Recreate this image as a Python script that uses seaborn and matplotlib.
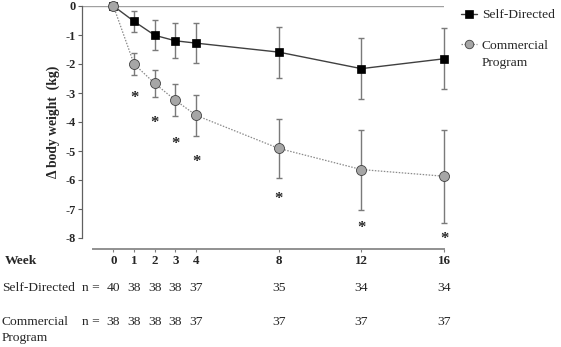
import numpy as np
import pandas as pd
import matplotlib.pyplot as plt
import matplotlib.transforms as mtransforms
import seaborn as sns

plt.switch_backend("Agg")

# dados
weeks = [0, 1, 2, 3, 4, 8, 12, 16]
self_directed = [0, -0.53, -1.01, -1.20, -1.28, -1.59, -2.16, -1.82]
self_directed_err = [0, 0.36, 0.52, 0.60, 0.69, 0.88, 1.05, 1.05]
commercial = [0, -2.00, -2.67, -3.25, -3.77, -4.91, -5.64, -5.87]
commercial_err = [0, 0.37, 0.48, 0.56, 0.70, 1.03, 1.38, 1.61]
star_weeks = [1, 2, 3, 4, 8, 12, 16]
star_y = [-3.08, -3.94, -4.67, -5.30, -6.56, -7.56, -7.94]
n_self = [40, 38, 38, 38, 37, 35, 34, 34]
n_commercial = [38, 38, 38, 38, 37, 37, 37, 37]
y_ticks = [0, -1, -2, -3, -4, -5, -6, -7, -8]

sns.set_style("ticks")
plt.rcParams["font.family"] = ["Liberation Serif", "DejaVu Serif"]
plt.rcParams["axes.unicode_minus"] = False

W, H = 561, 347
fig = plt.figure(figsize=(W / 100, H / 100), dpi=100)
ax = fig.add_axes([82 / W, 1 - 238 / H, (444 - 82) / W, (238 - 6) / H])

ax.axhline(0, color="#a0a0a0", lw=1.0, zorder=1)

ax.errorbar(weeks, self_directed, yerr=self_directed_err, fmt="none",
            ecolor="#7a7a7a", elinewidth=1.0, capsize=2.5, capthick=1.0,
            zorder=2, clip_on=False)
ax.errorbar(weeks, commercial, yerr=commercial_err, fmt="none",
            ecolor="#7a7a7a", elinewidth=1.0, capsize=2.5, capthick=1.0,
            zorder=2, clip_on=False)

sns.lineplot(x=weeks, y=self_directed, ax=ax, color="#404040", lw=1.0,
             marker="s", markersize=6.3, markerfacecolor="black",
             markeredgecolor="black", markeredgewidth=0.5,
             label="Self-Directed", clip_on=False, zorder=3)
sns.lineplot(x=weeks, y=commercial, ax=ax, color="#8a8a8a", lw=0.9,
             linestyle=(0, (1.2, 1.2)), marker="o", markersize=7.2,
             markerfacecolor="#a6a6a6", markeredgecolor="#404040",
             markeredgewidth=0.6, label="Commercial",
             clip_on=False, zorder=4)

for w, y in zip(star_weeks, star_y):
    ax.annotate("*", (w, y), xytext=(0, -2), textcoords="offset points",
                ha="center", va="center", fontsize=12, fontweight="bold")

ax.set_xlim(-1.52, 16)
ax.set_ylim(-8, 0)
ax.set_yticks(y_ticks)
ax.set_yticklabels([str(t) for t in y_ticks], fontweight="bold", fontsize=8.8)
ax.set_xticks(weeks)
ax.set_xticklabels([])
ax.tick_params(axis="y", length=3, width=0.8, pad=1.5, color="#606060")
ax.tick_params(axis="x", length=2.5, width=0.8, color="#808080")
sns.despine(ax=ax)
ax.spines["left"].set_color("#606060")
ax.spines["left"].set_linewidth(0.9)
ax.spines["bottom"].set_position(("outward", 7.9))
ax.spines["bottom"].set_bounds(-1, 16)
ax.spines["bottom"].set_color("#909090")
ax.spines["bottom"].set_linewidth(1.4)
ax.set_xlabel("")
ax.set_ylabel("\u0394 body weight  (kg)", fontweight="bold", fontsize=9.8)
ax.yaxis.set_label_coords(-0.061, 0.5)

handles, labels = ax.get_legend_handles_labels()
if ax.get_legend() is not None:
    ax.get_legend().remove()
leg = fig.legend(handles, labels, loc="upper left",
                 bbox_to_anchor=(461 / W, 1 - 9 / H), frameon=False,
                 fontsize=9.7, handlelength=1.2, handletextpad=0.35,
                 labelspacing=1.35, borderaxespad=0, borderpad=0,
                 markerscale=0.85)

# segunda linha do rótulo da legenda
fig.canvas.draw()
bb = leg.get_texts()[1].get_window_extent()
fig.text(bb.x0 / W, (bb.y0 + bb.y1) / 2 / H - 17 / H, "Program",
         ha="left", va="center", fontsize=9.7)

# tabela de n por semana
trans = mtransforms.blended_transform_factory(ax.transData, fig.transFigure)
row_week = 1 - 261 / H
row_self = 1 - 288 / H
row_comm = 1 - 322 / H
for w, a, b in zip(weeks, n_self, n_commercial):
    ax.text(w, row_week, str(w), transform=trans, ha="center", va="center",
            fontweight="bold", fontsize=9.4)
    ax.text(w, row_self, str(a), transform=trans, ha="center", va="center",
            fontsize=9.7)
    ax.text(w, row_comm, str(b), transform=trans, ha="center", va="center",
            fontsize=9.7)

fig.text(5 / W, row_week, "Week", ha="left", va="center",
         fontweight="bold", fontsize=9.7)
fig.text(2 / W, row_self, "Self-Directed", ha="left", va="center",
         fontsize=9.7)
fig.text(82 / W, row_self, "n =", ha="left", va="center", fontsize=9.7)
fig.text(2 / W, row_comm, "Commercial", ha="left", va="center",
         fontsize=9.7)
fig.text(2 / W, 1 - 338 / H, "Program", ha="left", va="center",
         fontsize=9.7)
fig.text(82 / W, row_comm, "n =", ha="left", va="center", fontsize=9.7)

fig.savefig("out.png", dpi=100)
plt.close(fig)
